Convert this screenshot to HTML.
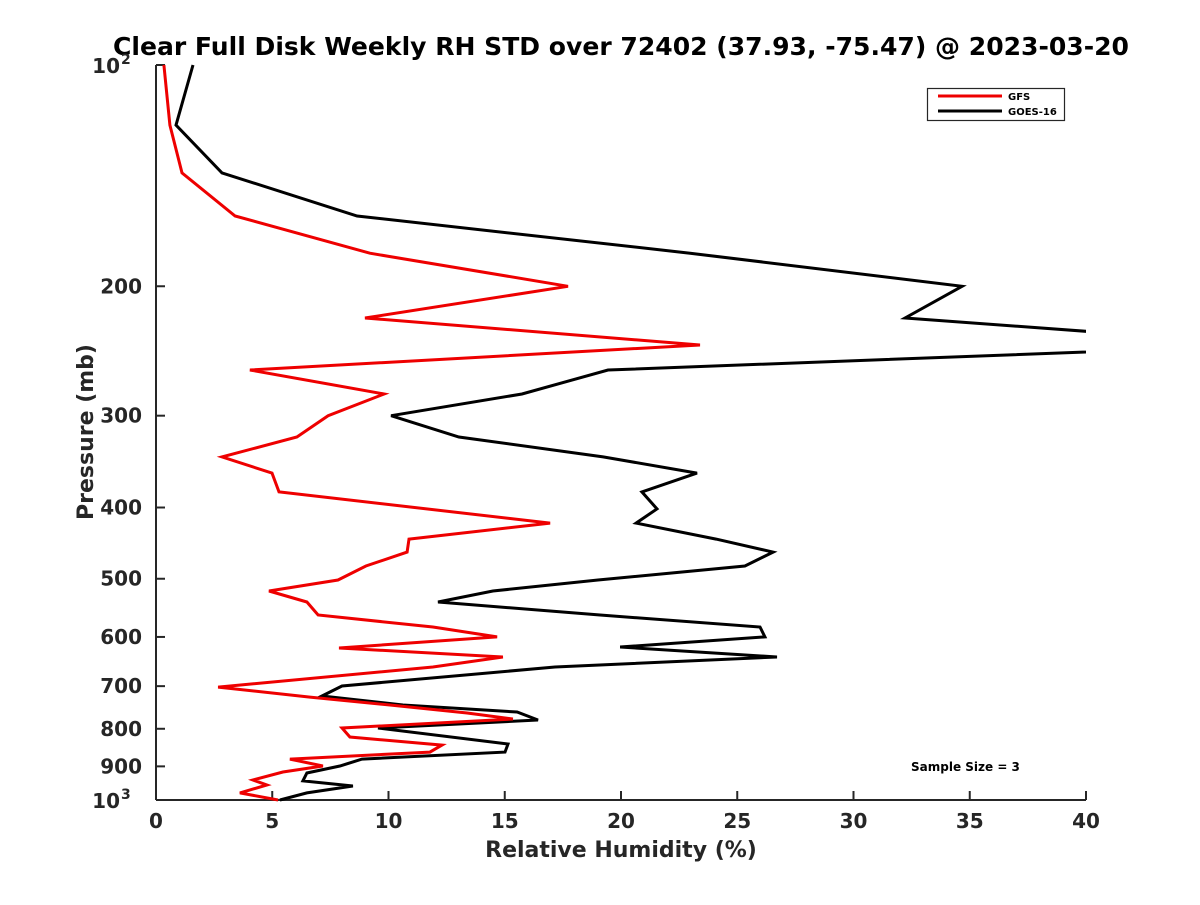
<!DOCTYPE html>
<html><head><meta charset="utf-8"><style>
html,body{margin:0;padding:0;background:#fff;}
svg text{font-family:"DejaVu Sans","Liberation Sans",sans-serif;font-weight:bold;}
</style></head><body>
<svg id="chart" width="1200" height="900" xmlns="http://www.w3.org/2000/svg">
<defs><clipPath id="plotclip"><rect x="156" y="60" width="930" height="742"/></clipPath></defs>
<text x="621" y="55" text-anchor="middle" font-size="25" fill="#000" textLength="1016" lengthAdjust="spacingAndGlyphs">Clear Full Disk Weekly RH STD over 72402 (37.93, -75.47) @ 2023-03-20</text>
<g id="axes"></g>
<g id="series" clip-path="url(#plotclip)"></g>
<text x="621" y="857" text-anchor="middle" font-size="22" fill="#262626">Relative Humidity (%)</text>
<text transform="translate(93,432) rotate(-90)" text-anchor="middle" font-size="22" fill="#262626">Pressure (mb)</text>
<g>
<rect x="927.5" y="88.5" width="137" height="32" fill="#fff" stroke="#262626" stroke-width="1.2"/>
<line x1="938" y1="96" x2="1002" y2="96" stroke="#e00" stroke-width="3"/>
<text x="1008" y="100" font-size="10" fill="#000">GFS</text>
<line x1="938" y1="111" x2="1002" y2="111" stroke="#000" stroke-width="3"/>
<text x="1008" y="115" font-size="10" fill="#000">GOES-16</text>
</g>
<text x="911" y="771" font-size="12" fill="#000">Sample Size = 3</text>
</svg>
<script>
const xTicks=[0,5,10,15,20,25,30,35,40];
const yTicks=[200,300,400,500,600,700,800,900];
const gfsP=[100,120.7,140.2,160.5,180.3,200,220.9,240.4,260,280.3,300,320.7,341.3,359.1,380.9,420,441.6,459.9,480.5,502,519.5,537.8,560.2,581.6,600,621.2,638.9,659.2,702,724.4,742.6,761.5,776,798,821,842,860.7,879.7,899,916,939.3,954,978,1000];
const gfsRH=[0.34,0.6,1.12,3.4,9.2,17.72,8.99,23.4,4.04,9.81,7.4,6.06,2.84,4.99,5.29,16.95,10.88,10.8,9.03,7.83,4.86,6.49,6.97,11.91,14.67,7.87,14.92,11.91,2.67,6.62,10.06,13.38,15.35,8.0,8.34,12.3,11.78,5.76,7.18,5.46,4.17,4.77,3.61,5.25];
const goesP=[100,120.7,140.2,160.5,180.3,200,220.9,240.4,260,280.3,300,320.7,341.3,359.1,380.9,401.8,420,441.6,459.9,480.5,502,519.5,537.8,560.2,581.6,600,619.2,638.9,659.2,699.7,722,742.6,759,778.4,798,839,860.7,879.7,899,919,942,957,978,1000];
const goesRH=[1.59,0.86,2.84,8.65,22.97,34.67,32.22,48,19.44,15.74,10.11,13.03,19.23,23.27,20.9,21.55,20.65,24.09,26.54,25.33,19.01,14.49,12.13,19.1,25.98,26.19,19.96,26.71,17.16,8.0,7.14,10.62,15.53,16.43,9.55,15.14,15.01,8.86,7.91,6.49,6.32,8.47,6.49,5.33];
const X0=156,X1=1086,Y0=65,Y1=800;
function xs(v){return X0+(v-0)/(40-0)*(X1-X0);}
function ys(p){return Y0+(Math.log10(p)-2)*(Y1-Y0);}
const NS='http://www.w3.org/2000/svg';
const axes=document.getElementById('axes');
function mk(tag,attrs,parent){const e=document.createElementNS(NS,tag);for(const k in attrs)e.setAttribute(k,attrs[k]);parent.appendChild(e);return e;}
const xa=mk('line',{x1:X0,y1:Y1,x2:X1,y2:Y1,stroke:'#262626','stroke-width':2},axes);


const ya=mk('line',{x1:X0,y1:Y0,x2:X0,y2:Y1,stroke:'#262626','stroke-width':2},axes);


xTicks.forEach(v=>{
  const x=xs(v);
  mk('line',{x1:x,y1:Y1,x2:x,y2:Y1-9,stroke:'#262626','stroke-width':2},axes);
  const t=mk('text',{x:x,y:Y1+28,'text-anchor':'middle','font-size':20,fill:'#262626'},axes);
  t.textContent=v;
  
  
});
[100,1000].concat(yTicks).forEach(p=>{
  const y=ys(p);
  mk('line',{x1:X0,y1:y,x2:X0+9,y2:y,stroke:'#262626','stroke-width':2},axes);
});
yTicks.forEach(p=>{
  const t=mk('text',{x:X0-14,y:ys(p)+7,'text-anchor':'end','font-size':20,fill:'#262626'},axes);
  t.textContent=p;
  
  
});
[[100,'2'],[1000,'3']].forEach(([p,e])=>{
  const y=ys(p);
  const t=mk('text',{x:X0-36,y:y+8,'text-anchor':'end','font-size':20,fill:'#262626'},axes);
  t.textContent='10';
  
  
  const s=mk('text',{x:X0-35,y:y-1,'font-size':14,fill:'#262626'},axes);
  s.textContent=e;
  
  
});
const sg=document.getElementById('series');
function line(P,V,color,name){
  const pts=P.map((p,i)=>xs(V[i]).toFixed(1)+','+ys(p).toFixed(1)).join(' ');
  const pl=mk('polyline',{points:pts,fill:'none',stroke:color,'stroke-width':3,'stroke-linejoin':'miter'},sg);
  
  
}
line(goesP,goesRH,'#000','goes16-line');
line(gfsP,gfsRH,'#e00','gfs-line');
</script>
</body></html>
